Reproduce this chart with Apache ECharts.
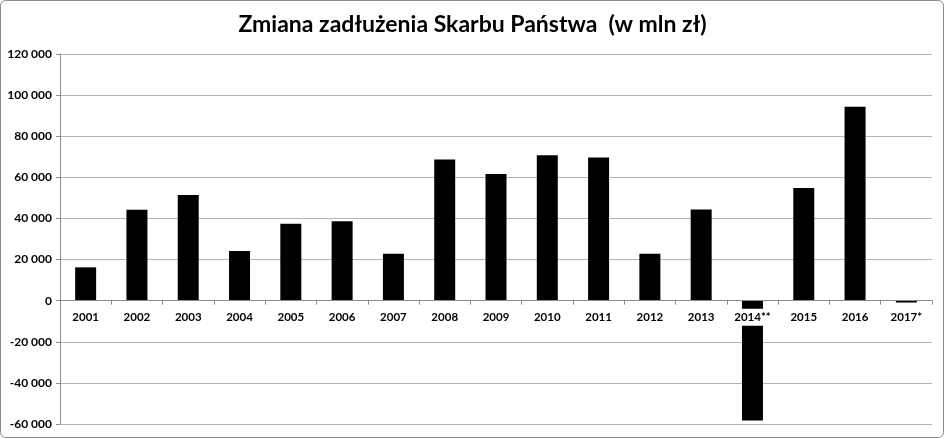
<!DOCTYPE html>
<html><head><meta charset="utf-8">
<script src="https://cdn.jsdelivr.net/npm/echarts@6/dist/echarts.min.js"></script>
<style>html,body{margin:0;padding:0;background:#fff}#c{width:945px;height:439px}</style>
</head><body><div id="c"></div>
<script>
const categories = ['2001','2002','2003','2004','2005','2006','2007','2008','2009','2010','2011','2012','2013','2014**','2015','2016','2017*'];
const values = [16200, 44200, 51400, 24200, 37400, 38600, 22800, 68700, 61600, 70700, 69700, 22800, 44400, -58300, 54800, 94300, -900];
const yTicks = {min: -60000, max: 120000, interval: 20000};
const titleText = 'Zmiana zadłużenia Skarbu Państwa  (w mln zł)';

const H = 439, gTop = 54, gBottom = 15;
const plotH = H - gTop - gBottom;
// move category axis up to the value-axis zero line
const zeroOffset = -plotH * (0 - yTicks.min) / (yTicks.max - yTicks.min);

const chart = echarts.init(document.getElementById('c'), null, {renderer: 'canvas'});
const font = 'Lato, "Open Sans", sans-serif';
chart.setOption({
  animation: false,
  backgroundColor: '#fff',
  title: {
    text: titleText, left: 'center', top: 8,
    textStyle: {fontFamily: font, fontWeight: 'bold', fontSize: 23, color: '#000'}
  },
  graphic: [{
    type: 'rect', shape: {x: 0.5, y: 0.5, width: 943, height: 437, r: 5},
    style: {fill: 'none', stroke: '#8a8a8a', lineWidth: 1}, z: 100, silent: true
  }],
  grid: {left: 60, right: 13, top: gTop, bottom: gBottom, containLabel: false, outerBoundsMode: 'none'},
  xAxis: {
    type: 'category', data: categories, z: 5, position: 'bottom', offset: zeroOffset,
    axisLine: {show: true, onZero: false, lineStyle: {color: '#8c8c8c', width: 1}},
    axisTick: {show: true, alignWithLabel: false, length: 4, lineStyle: {color: '#8c8c8c'}},
    axisLabel: {
      fontFamily: font, fontWeight: 'bold', fontSize: 11.5, color: '#000',
      margin: 8, backgroundColor: '#fff', padding: [3, 1, 2, 1], lineHeight: 12, interval: 0
    }
  },
  yAxis: {
    type: 'value', min: yTicks.min, max: yTicks.max, interval: yTicks.interval,
    axisLine: {show: true, lineStyle: {color: '#8c8c8c'}},
    axisTick: {show: true, length: 4, lineStyle: {color: '#8c8c8c'}},
    splitLine: {lineStyle: {color: '#b4b4b4', width: 1}},
    axisLabel: {
      fontFamily: font, fontWeight: 'bold', fontSize: 12, color: '#000', margin: 8,
      formatter: v => {
        const s = Math.abs(v).toString().replace(/\B(?=(\d{3})+(?!\d))/g, ' ');
        return (v < 0 ? '-' : '') + s;
      }
    }
  },
  series: [{
    type: 'bar', data: values, barWidth: 21,
    itemStyle: {color: '#000'}
  }]
});
</script></body></html>
